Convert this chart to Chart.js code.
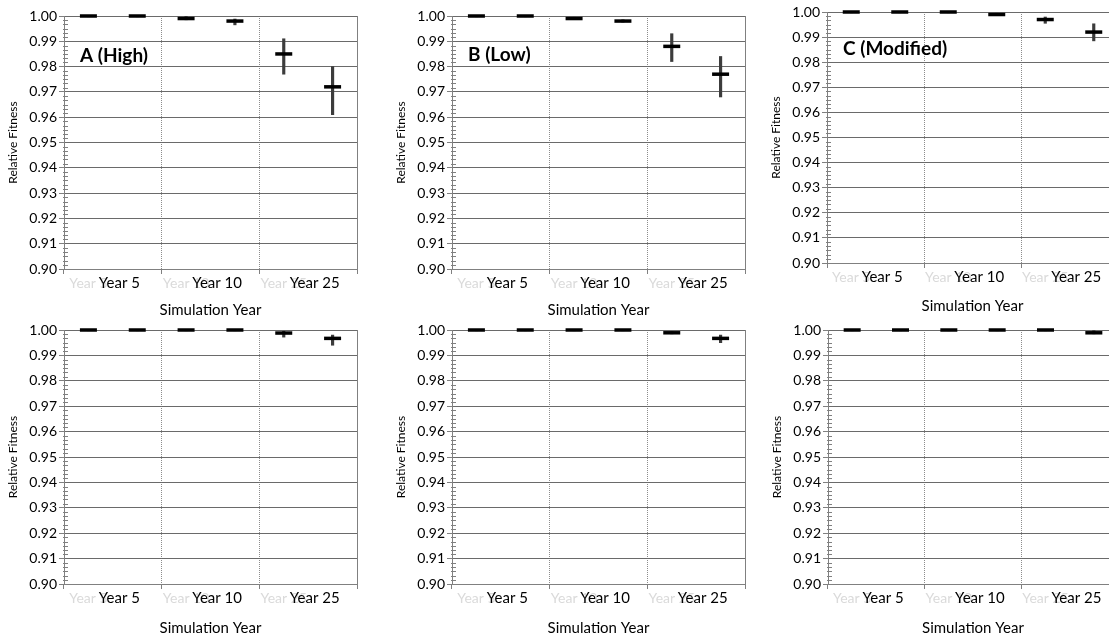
<!DOCTYPE html>
<html>
<head>
<meta charset="utf-8">
<script src="https://cdn.jsdelivr.net/npm/chart.js@4.4.1/dist/chart.umd.min.js"></script>
<style>
  html, body { margin: 0; padding: 0; background: #fff; overflow: hidden; }
  body { width: 1109px; height: 639px; position: relative; }
  canvas { position: absolute; }
</style>
</head>
<body>
<canvas id="pA"></canvas>
<canvas id="pB"></canvas>
<canvas id="pC"></canvas>
<canvas id="pD"></canvas>
<canvas id="pE"></canvas>
<canvas id="pF"></canvas>
<script>
// categories: two runs per simulation year
const categories = ['Year 5', 'Year 5', 'Year 10', 'Year 10', 'Year 25', 'Year 25'];
const groupLabels = ['Year 5', 'Year 10', 'Year 25'];
const yTickLabels = ['0.90', '0.91', '0.92', '0.93', '0.94', '0.95', '0.96', '0.97', '0.98', '0.99', '1.00'];

// panel A (High)
const meanA = [1.000, 1.000, 0.999, 0.998, 0.985, 0.972];
const lowA  = [0.9997, 0.9997, 0.9985, 0.9965, 0.977, 0.961];
const highA = [1.000, 1.000, 1.000, 0.9988, 0.991, 0.980];
// panel B (Low)
const meanB = [1.000, 1.000, 0.999, 0.998, 0.988, 0.977];
const lowB  = [0.9997, 0.9997, 0.9986, 0.9976, 0.982, 0.968];
const highB = [1.000, 1.000, 0.9995, 0.9985, 0.993, 0.984];
// panel C (Modified)
const meanC = [1.000, 1.000, 1.000, 0.999, 0.997, 0.992];
const lowC  = [0.9997, 0.9997, 0.9997, 0.9986, 0.9955, 0.9885];
const highC = [1.000, 1.000, 1.000, 0.9995, 0.998, 0.9953];
// bottom row
const meanD = [1.000, 1.000, 1.000, 1.000, 0.9988, 0.9967];
const lowD  = [0.9997, 0.9997, 0.9997, 0.9997, 0.9972, 0.994];
const highD = [1.000, 1.000, 1.000, 1.000, 0.9995, 0.998];
const meanE = [1.000, 1.000, 1.000, 1.000, 0.9989, 0.9967];
const lowE  = [0.9997, 0.9997, 0.9997, 0.9997, 0.9985, 0.995];
const highE = [1.000, 1.000, 1.000, 1.000, 0.9993, 0.998];
const meanF = [1.000, 1.000, 1.000, 1.000, 1.000, 0.9989];
const lowF  = [0.9997, 0.9997, 0.9997, 0.9997, 0.9997, 0.9985];
const highF = [1.000, 1.000, 1.000, 1.000, 1.000, 0.9998];

const FONT = 'Lato, "Open Sans", sans-serif';

// minor ticks, faded year labels, right frame line, panel letter
const extras = {
    id: 'extras',
    beforeDraw(chart, args, opts) {
        const {ctx, scales: {x}, chartArea: a} = chart;
        ctx.save();
        ctx.fillStyle = '#dadada';
        ctx.font = '14px ' + FONT;
        ctx.textAlign = 'center';
        ctx.textBaseline = 'top';
        groupLabels.forEach((lab, i) => {
            ctx.fillText(lab, x.getPixelForValue(i * 2), a.bottom + 7);
        });
        ctx.restore();
    },
    afterDraw(chart, args, opts) {
        const {ctx, scales: {y}, chartArea: a} = chart;
        ctx.save();
        ctx.strokeStyle = '#808080';
        ctx.lineWidth = 1;
        ctx.beginPath();
        ctx.moveTo(Math.round(a.right) + 0.5, a.top);
        ctx.lineTo(Math.round(a.right) + 0.5, a.bottom);
        for (let k = 0; k < yTickLabels.length - 1; k++) {
            for (let m = 1; m < 6; m++) {
                const py = Math.round(y.getPixelForValue(0.9 + k * 0.01 + m * 0.01 / 6)) + 0.5;
                ctx.moveTo(a.left - 1, py);
                ctx.lineTo(a.left + 4, py);
            }
        }
        ctx.stroke();
        if (opts.label) {
            ctx.fillStyle = '#000';
            ctx.font = 'bold 19px ' + FONT;
            ctx.textBaseline = 'middle';
            ctx.fillText(opts.label, a.left + 16, a.top + opts.labelDy);
        }
        ctx.restore();
    }
};

function makePanel(id, box, mean, low, high, label, labelDy) {
    const cv = document.getElementById(id);
    cv.width = box.w;
    cv.height = box.h;
    cv.style.left = box.x + 'px';
    cv.style.top = box.y + 'px';
    return new Chart(cv.getContext('2d'), {
        data: {
            labels: categories,
            datasets: [{
                type: 'bar',
                data: low.map((l, i) => [l, high[i]]),
                backgroundColor: '#3c3c3c',
                borderWidth: 0,
                barThickness: 2.5,
                order: 2
            }, {
                type: 'line',
                data: mean,
                showLine: false,
                pointStyle: 'line',
                pointRadius: 8.5,
                pointBorderWidth: 3.5,
                borderColor: '#000',
                backgroundColor: '#000',
                clip: false,
                order: 1
            }]
        },
        options: {
            responsive: false,
            animation: false,
            events: [],
            layout: { padding: { left: box.pl, right: box.pr, top: box.pt, bottom: 0 } },
            plugins: {
                legend: { display: false },
                tooltip: { enabled: false },
                extras: { label: label, labelDy: labelDy }
            },
            scales: {
                x: {
                    type: 'category',
                    offset: true,
                    grid: {
                        offset: true,
                        color: c => (c.index === 2 || c.index === 4) ? '#8c8c8c' : 'rgba(0,0,0,0)',
                        tickColor: c => (c.index === undefined || c.index % 2 === 0) ? '#808080' : 'rgba(0,0,0,0)',
                        tickLength: 5,
                        lineWidth: 1
                    },
                    border: { color: '#808080', dash: [1, 1] },
                    ticks: {
                        autoSkip: false,
                        maxRotation: 0,
                        labelOffset: 31,
                        padding: 0,
                        color: '#000',
                        font: { family: FONT, size: 15 },
                        callback: (v, i) => i % 2 === 0 ? groupLabels[i / 2] : ''
                    },
                    title: {
                        display: true,
                        text: 'Simulation Year',
                        color: '#000',
                        font: { family: FONT, size: 15 },
                        padding: { top: 0, bottom: 2 }
                    },
                    afterFit: s => { s.height = box.xh; }
                },
                y: {
                    min: 0.9,
                    max: 1.0,
                    grid: { color: '#6a6a6a', tickColor: '#808080', tickLength: 5, lineWidth: 1 },
                    border: { color: '#808080' },
                    ticks: {
                        stepSize: 0.01,
                        padding: 2,
                        color: '#000',
                        font: { family: FONT, size: 14 },
                        callback: v => yTickLabels[Math.round((v - 0.9) * 100)]
                    },
                    title: {
                        display: true,
                        text: 'Relative Fitness',
                        color: '#000',
                        font: { family: FONT, size: 12 },
                        padding: { top: 6, bottom: 0 }
                    },
                    afterFit: s => { s.width = 64; }
                }
            }
        },
        plugins: [extras]
    });
}

makePanel('pA', {x: 0,   y: 0, w: 370, h: 321, pl: 0,  pr: 13, pt: 16, xh: 52}, meanA, lowA, highA, 'A (High)', 40);
makePanel('pB', {x: 370, y: 0, w: 390, h: 321, pl: 18, pr: 15, pt: 16, xh: 52}, meanB, lowB, highB, 'B (Low)', 39);
makePanel('pC', {x: 740, y: 0, w: 390, h: 317, pl: 23, pr: 9,  pt: 10, xh: 54}, meanC, lowC, highC, 'C (Modified)', 37);
makePanel('pD', {x: 0,   y: 315, w: 370, h: 324, pl: 0,  pr: 13, pt: 15, xh: 55}, meanD, lowD, highD, null, 0);
makePanel('pE', {x: 370, y: 315, w: 390, h: 324, pl: 18, pr: 15, pt: 15, xh: 55}, meanE, lowE, highE, null, 0);
makePanel('pF', {x: 740, y: 315, w: 390, h: 324, pl: 24, pr: 9,  pt: 15, xh: 55}, meanF, lowF, highF, null, 0);
</script>
</body>
</html>
